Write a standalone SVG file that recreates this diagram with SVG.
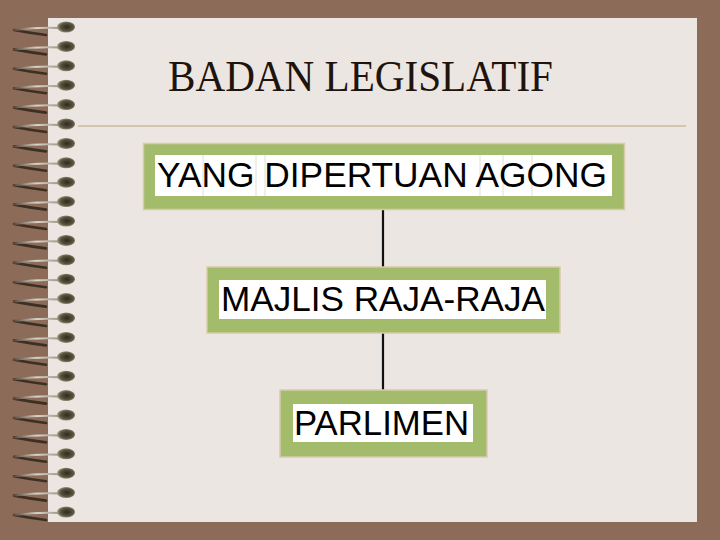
<svg xmlns="http://www.w3.org/2000/svg" xmlns:xlink="http://www.w3.org/1999/xlink" width="720" height="540" viewBox="0 0 720 540">
<style>
.frame{fill:#a3bc6c;stroke:#d8cba8;stroke-width:1.5}
.inner{fill:#ffffff}
.lbl{font-family:"Liberation Sans",Arial,sans-serif;font-size:35px;fill:#000000}
.cell{stroke:#d6d6d0;stroke-width:0.8}
.conn{stroke:#111111;stroke-width:2.2;fill:none}
</style>
<defs>
<radialGradient id="dotg" cx="0.55" cy="0.5" r="0.6">
<stop offset="0" stop-color="#2e2a1e"/>
<stop offset="0.6" stop-color="#5a5440"/>
<stop offset="1" stop-color="#b8b29c"/>
</radialGradient>
<linearGradient id="wireg" x1="0" y1="0" x2="1" y2="0">
<stop offset="0" stop-color="#5a4a3c"/>
<stop offset="0.5" stop-color="#d8d4cc"/>
<stop offset="1" stop-color="#9a9484"/>
</linearGradient>
<g id="loop">
<path d="M -52,3 Q -36,6 -20,8" stroke="#3c2f24" stroke-width="2.6" fill="none" stroke-linecap="round"/>
<path d="M -6,1 Q -28,0 -52,3" stroke="url(#wireg)" stroke-width="2" fill="none" stroke-linecap="round"/>
<ellipse cx="0" cy="0" rx="9" ry="5.5" fill="url(#dotg)"/>
</g>
</defs>
<rect x="0" y="0" width="720" height="540" fill="#8c6b58"/>
<rect x="48" y="18" width="649" height="504" fill="#ebe6e1"/>
<line x1="78" y1="126" x2="686" y2="126" stroke="#cbbb9b" stroke-width="1.5"/>
<text x="168" y="91" font-family="Liberation Serif,'Times New Roman',serif" font-size="45" fill="#1e140c" textLength="385" lengthAdjust="spacingAndGlyphs">BADAN LEGISLATIF</text>
<g id="spiral">
<use xlink:href="#loop" x="66" y="27"/>
<use xlink:href="#loop" x="66" y="46.4"/>
<use xlink:href="#loop" x="66" y="65.8"/>
<use xlink:href="#loop" x="66" y="85.2"/>
<use xlink:href="#loop" x="66" y="104.6"/>
<use xlink:href="#loop" x="66" y="124"/>
<use xlink:href="#loop" x="66" y="143.4"/>
<use xlink:href="#loop" x="66" y="162.8"/>
<use xlink:href="#loop" x="66" y="182.2"/>
<use xlink:href="#loop" x="66" y="201.6"/>
<use xlink:href="#loop" x="66" y="221"/>
<use xlink:href="#loop" x="66" y="240.4"/>
<use xlink:href="#loop" x="66" y="259.8"/>
<use xlink:href="#loop" x="66" y="279.2"/>
<use xlink:href="#loop" x="66" y="298.6"/>
<use xlink:href="#loop" x="66" y="318"/>
<use xlink:href="#loop" x="66" y="337.4"/>
<use xlink:href="#loop" x="66" y="356.8"/>
<use xlink:href="#loop" x="66" y="376.2"/>
<use xlink:href="#loop" x="66" y="395.6"/>
<use xlink:href="#loop" x="66" y="415"/>
<use xlink:href="#loop" x="66" y="434.4"/>
<use xlink:href="#loop" x="66" y="453.8"/>
<use xlink:href="#loop" x="66" y="473.2"/>
<use xlink:href="#loop" x="66" y="492.6"/>
<use xlink:href="#loop" x="66" y="512"/>
</g>
<g id="connectors">
<line class="conn" x1="383" y1="209" x2="383" y2="267"/>
<line class="conn" x1="383" y1="333" x2="383" y2="390"/>
</g>
<g id="node-agong">
<rect class="frame" x="143.5" y="143.5" width="481" height="66"/>
<rect class="inner" x="155" y="155" width="457" height="41"/>
<line class="cell" x1="203" y1="155" x2="203" y2="196"/>
<line class="cell" x1="256" y1="155" x2="256" y2="196"/>
<line class="cell" x1="265" y1="155" x2="265" y2="196"/>
<line class="cell" x1="480" y1="155" x2="480" y2="196"/>
<line class="cell" x1="503" y1="155" x2="503" y2="196"/>
<line class="cell" x1="532" y1="155" x2="532" y2="196"/>
<text class="lbl" x="157" y="187" textLength="450" lengthAdjust="spacingAndGlyphs">YANG DIPERTUAN AGONG</text>
</g>
<g id="node-majlis">
<rect class="frame" x="207" y="267" width="353" height="66"/>
<rect class="inner" x="219" y="280" width="327" height="39"/>
<text class="lbl" x="221" y="311" textLength="324" lengthAdjust="spacingAndGlyphs">MAJLIS RAJA-RAJA</text>
</g>
<g id="node-parlimen">
<rect class="frame" x="280" y="390" width="207" height="67"/>
<rect class="inner" x="293" y="404" width="180" height="38"/>
<text class="lbl" x="294" y="435" textLength="175" lengthAdjust="spacingAndGlyphs">PARLIMEN</text>
</g>
</svg>
